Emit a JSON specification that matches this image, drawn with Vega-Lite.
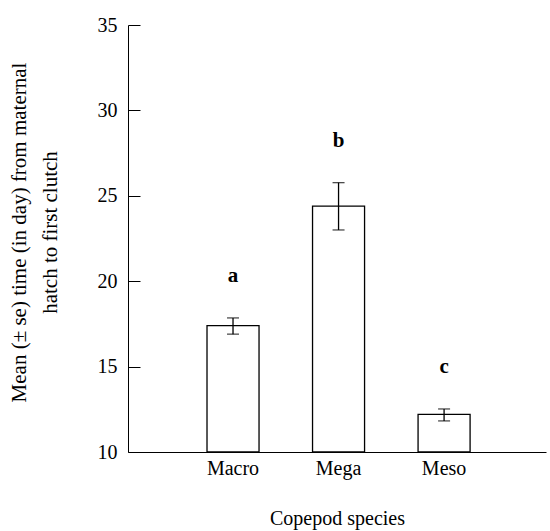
{
  "$schema": "https://vega.github.io/schema/vega-lite/v6.json",
  "width": 418,
  "height": 427,
  "autosize": {"type": "none"},
  "padding": {"left": 128, "top": 25, "right": 4, "bottom": 79},
  "background": "white",
  "config": {
    "view": {"stroke": null},
    "font": "Liberation Serif",
    "axis": {
      "domainColor": "black",
      "tickColor": "black",
      "labelColor": "black",
      "titleColor": "black",
      "labelFont": "Liberation Serif",
      "titleFont": "Liberation Serif",
      "labelFontSize": 20,
      "titleFontSize": 20,
      "titleFontWeight": "normal",
      "grid": false
    }
  },
  "data": {
    "values": [
      {"species": "Macro", "mean": 17.4, "lower": 16.9, "upper": 17.85, "letter": "a"},
      {"species": "Mega", "mean": 24.4, "lower": 23.0, "upper": 25.77, "letter": "b"},
      {"species": "Meso", "mean": 12.2, "lower": 11.82, "upper": 12.52, "letter": "c"}
    ]
  },
  "encoding": {
    "x": {
      "field": "species",
      "type": "nominal",
      "scale": {"paddingInner": 0.507, "paddingOuter": 0.734, "align": 0.51},
      "axis": {
        "title": "Copepod species",
        "labelAngle": 0,
        "ticks": false,
        "labelPadding": 6,
        "titlePadding": 30
      }
    }
  },
  "layer": [
    {
      "mark": {"type": "bar", "fill": "white", "stroke": "black", "strokeWidth": 1.3},
      "encoding": {
        "y": {
          "field": "mean",
          "type": "quantitative",
          "scale": {"domain": [10, 35], "nice": false, "zero": false},
          "axis": {
            "title": ["Mean (± se) time (in day) from maternal", "hatch to first clutch"],
            "values": [10, 15, 20, 25, 30, 35],
            "tickSize": -12,
            "labelPadding": 23,
            "titlePadding": 37,
            "titleFontSize": 21,
            "titleLineHeight": 31,
            "titleY": 207
          }
        },
        "y2": {"datum": 10}
      }
    },
    {
      "mark": {"type": "rule", "color": "black", "strokeWidth": 1.3},
      "encoding": {
        "y": {"field": "lower", "type": "quantitative"},
        "y2": {"field": "upper"}
      }
    },
    {
      "mark": {"type": "tick", "orient": "horizontal", "color": "black", "size": 12, "thickness": 1.3},
      "encoding": {
        "y": {"field": "lower", "type": "quantitative"}
      }
    },
    {
      "mark": {"type": "tick", "orient": "horizontal", "color": "black", "size": 12, "thickness": 1.3},
      "encoding": {
        "y": {"field": "upper", "type": "quantitative"}
      }
    },
    {
      "mark": {"type": "text", "fontWeight": "bold", "fontSize": 21, "dy": -36, "baseline": "alphabetic", "color": "black"},
      "encoding": {
        "y": {"field": "upper", "type": "quantitative"},
        "text": {"field": "letter"}
      }
    }
  ]
}
